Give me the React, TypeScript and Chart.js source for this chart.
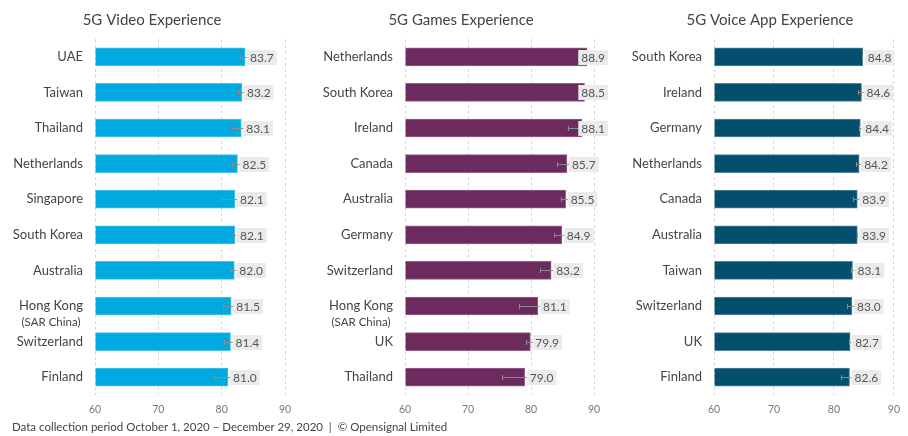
import React, { useEffect, useRef } from "react";
import { Chart, registerables } from "chart.js";
Chart.register(...registerables);

const FONT = "Lato, 'Open Sans', sans-serif";

const xTicks = [60, 70, 80, 90];

const videoCountries = ["UAE", "Taiwan", "Thailand", "Netherlands", "Singapore", "South Korea", "Australia", "Hong Kong (SAR China)", "Switzerland", "Finland"];
const videoValues = [83.7, 83.2, 83.1, 82.5, 82.1, 82.1, 82.0, 81.5, 81.4, 81.0];
const videoCI = [0.8, 0.7, 1.4, 0.8, 2.2, 0.2, 0.6, 1.3, 1.0, 2.2];

const gamesCountries = ["Netherlands", "South Korea", "Ireland", "Canada", "Australia", "Germany", "Switzerland", "Hong Kong (SAR China)", "UK", "Thailand"];
const gamesValues = [88.9, 88.5, 88.1, 85.7, 85.5, 84.9, 83.2, 81.1, 79.9, 79.0];
const gamesCI = [1.4, 0.3, 2.3, 1.5, 0.8, 1.2, 1.8, 3.0, 0.7, 3.6];

const voiceCountries = ["South Korea", "Ireland", "Germany", "Netherlands", "Canada", "Australia", "Taiwan", "Switzerland", "UK", "Finland"];
const voiceValues = [84.8, 84.6, 84.4, 84.2, 83.9, 83.9, 83.1, 83.0, 82.7, 82.6];
const voiceCI = [0.1, 0.6, 0.2, 0.5, 0.7, 0.1, 0.3, 0.8, 0.2, 1.5];

const SUB = " (SAR China)";

const valueLabelPlugin = {
  id: "valueLabels",
  afterLayout(chart: any) {
    const c = chart.options.titleCenter;
    const t = chart.titleBlock;
    if (t && typeof c === "number") {
      t.left = c - 150;
      t.right = c + 150;
      t.width = 300;
    }
  },
  afterDatasetsDraw(chart: any) {
    const ctx = chart.ctx;
    const meta = chart.getDatasetMeta(0);
    const ds: any = chart.data.datasets[0];
    const xs = chart.scales.x;
    const ys = chart.scales.y;
    ctx.save();
    meta.data.forEach((bar: any, i: number) => {
      const v = ds.data[i] as number;
      const ci = ds.ci[i] as number;
      const x0 = xs.getPixelForValue(v - ci);
      const x1 = xs.getPixelForValue(v + ci);
      const y = Math.round(bar.y);
      ctx.strokeStyle = "#8c8c8c";
      ctx.lineWidth = 1;
      ctx.beginPath();
      ctx.moveTo(x0, y + 0.5);
      ctx.lineTo(x1, y + 0.5);
      ctx.moveTo(Math.round(x0) + 0.5, y - 2);
      ctx.lineTo(Math.round(x0) + 0.5, y + 3);
      ctx.stroke();
      const txt = v.toFixed(1);
      ctx.font = `12px ${FONT}`;
      const w = ctx.measureText(txt).width + 6;
      let bx = bar.x + 2;
      if (bx + w > chart.width - 2) bx = chart.width - 2 - w;
      ctx.fillStyle = "#ebebeb";
      ctx.fillRect(bx, y - 7, w, 15);
      ctx.fillStyle = "#555";
      ctx.textAlign = "left";
      ctx.textBaseline = "middle";
      ctx.fillText(txt, bx + 3, y + 1);
    });
    // sub-label under Hong Kong
    const labels = chart.data.labels as string[];
    labels.forEach((lab, i) => {
      if (lab.indexOf(SUB) >= 0) {
        const main = lab.replace(SUB, "");
        const y = ys.getPixelForValue(i);
        ctx.font = `13px ${FONT}`;
        const mw = ctx.measureText(main).width;
        const right = ys.right - 12;
        ctx.font = `11.5px ${FONT}`;
        ctx.fillStyle = "#444";
        ctx.textAlign = "center";
        ctx.textBaseline = "middle";
        ctx.fillText(SUB.trim(), right - mw / 2, y + 16);
      }
    });
    ctx.restore();
  },
};

type PanelProps = {
  title: string;
  countries: string[];
  values: number[];
  ci: number[];
  color: string;
  border: string;
  left: number;
  width: number;
  yWidth: number;
  padRight: number;
  titleCenter: number;
};

function Panel(p: PanelProps) {
  const ref = useRef<HTMLCanvasElement>(null);
  useEffect(() => {
    if (!ref.current) return;
    const chart = new Chart(ref.current, {
      type: "bar",
      data: {
        labels: p.countries,
        datasets: [
          {
            data: p.values,
            backgroundColor: p.color,
            borderColor: p.border,
            borderWidth: 1,
            barThickness: 18,
            base: 60,
            ci: p.ci,
          } as any,
        ],
      },
      options: {
        animation: false,
        responsive: false,
        devicePixelRatio: 1,
        indexAxis: "y",
        titleCenter: p.titleCenter,
        layout: { padding: { left: 0, right: p.padRight, top: 0, bottom: 0 } },
        plugins: {
          legend: { display: false },
          tooltip: { enabled: false },
          title: {
            display: true,
            text: p.title,
            color: "#444",
            font: { family: FONT, size: 15, weight: "normal" as any },
            padding: { top: 11, bottom: 10 },
          },
        },
        scales: {
          x: {
            min: 60,
            max: 90,
            afterBuildTicks: (s: any) => {
              s.ticks = xTicks.map((v) => ({ value: v }));
            },
            afterFit: (s: any) => {
              s.height = 25;
            },
            grid: { color: "#d6d6d6", drawTicks: false, lineWidth: 1 },
            border: { display: false, dash: [3, 3] },
            ticks: { color: "#777", font: { family: FONT, size: 10.5 }, padding: 8 },
          },
          y: {
            afterFit: (s: any) => {
              s.width = p.yWidth;
            },
            grid: { display: false, drawTicks: false },
            border: { display: false },
            ticks: {
              color: "#444",
              font: { family: FONT, size: 13 },
              padding: 12,
              autoSkip: false,
              callback: function (this: any, v: any) {
                return String(this.getLabelForValue(v)).replace(SUB, "");
              },
            },
          },
        },
      } as any,
      plugins: [valueLabelPlugin],
    });
    return () => chart.destroy();
  }, []);
  return (
    <canvas
      ref={ref}
      width={p.width}
      height={420}
      style={{ position: "absolute", left: p.left, top: 0, width: p.width, height: 420 }}
    />
  );
}

export default function App() {
  return (
    <div style={{ position: "fixed", left: 0, top: 0, width: 908, height: 436, background: "#fff", overflow: "hidden" }}>
      <Panel title="5G Video Experience" countries={videoCountries} values={videoValues} ci={videoCI}
        color="#00a9e0" border="#4cc2ea" left={0} width={300} yWidth={95} padRight={15} titleCenter={152} />
      <Panel title="5G Games Experience" countries={gamesCountries} values={gamesValues} ci={gamesCI}
        color="#6c2a5f" border="#936488" left={310} width={300} yWidth={95} padRight={16} titleCenter={151} />
      <Panel title="5G Voice App Experience" countries={voiceCountries} values={voiceValues} ci={voiceCI}
        color="#044e6e" border="#4f849c" left={630} width={278} yWidth={84} padRight={5} titleCenter={140} />
      <div style={{ position: "absolute", left: 12, top: 419, fontFamily: FONT, fontSize: 11.5, color: "#444", whiteSpace: "pre", lineHeight: "16px" }}>
        {"Data collection period October 1, 2020 – December 29, 2020  |  © Opensignal Limited"}
      </div>
    </div>
  );
}
